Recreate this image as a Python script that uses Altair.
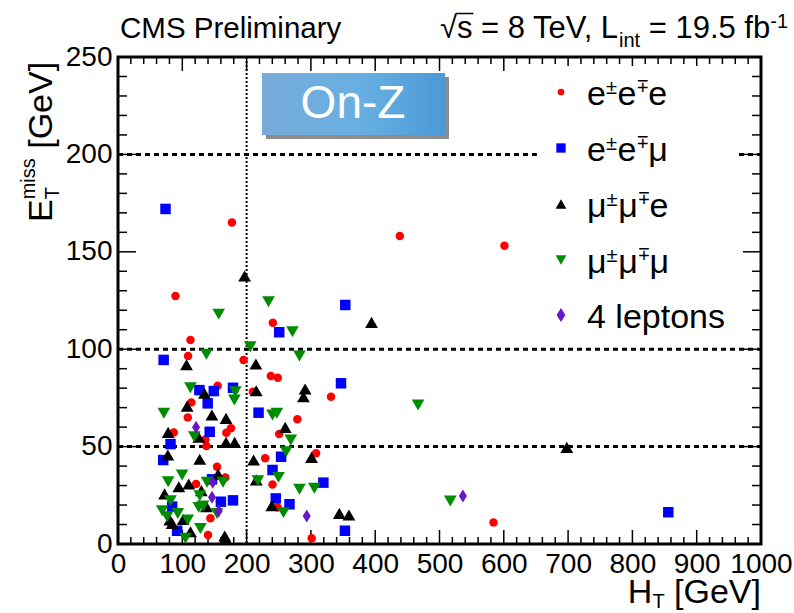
import altair as alt
import pandas as pd

# ---------------- data (H_T [GeV], E_T^miss [GeV]) ----------------
eee_ht = [112.7, 109, 155, 114, 108.5, 175.7, 168.5, 86.8, 136, 137.5, 154, 167, 121.4, 143.7, 140,
          240.8, 195.3, 237.7, 248.5, 331.3, 209.8, 279, 250.7, 228.9, 308, 240.3, 248.4, 301.2,
          438.3, 601, 584, 177.2, 89.4]
eee_met = [104.7, 96.5, 81.3, 72.7, 65, 59.4, 57.1, 57.3, 53.7, 50.3, 39.7, 34.2, 30.8, 13.2, 4.6,
           113.6, 94.5, 86.2, 85.4, 75.6, 78.2, 64, 56.5, 44, 46.6, 30.6, 18.8, 2.9,
           158.1, 153.1, 11.1, 165, 127.3]

eem_ht = [71, 126.6, 149, 178.8, 139.5, 142.6, 81.7, 70.3, 146.2, 160, 178.8, 84.2, 92,
          250.7, 346.8, 218.6, 253.6, 240.3, 319.4, 245.4, 266.7, 352.9, 855.8, 73.9, 353.5]
eem_met = [94.5, 79, 78.5, 80.2, 72.2, 57.6, 51.3, 43.1, 33.2, 21.7, 22.4, 19.2, 6.8,
           108.7, 82.5, 67.4, 44.8, 38, 31.5, 23.4, 20.4, 6.8, 16.3, 172, 122.7]

mme_ht = [106.5, 134.4, 107.5, 146, 168, 78, 125.6, 168, 181.4, 77.5, 127.1, 155.6, 110, 94.6,
          129.6, 72.4, 101.3, 80.6, 137.5, 84.2, 112.7, 166, 168, 214.4, 291, 288.4, 215, 260,
          210.9, 301, 215, 239.3, 344.2, 359.2, 394.3, 698, 196.9]
mme_met = [92, 77.4, 70.8, 66.2, 64.5, 57.3, 54.8, 52.2, 52.2, 45.7, 43.5, 35.9, 30.8, 29.4,
           27.4, 25.7, 12.6, 12.3, 19.2, 10.6, 6.3, 4.1, 2.4, 92.4, 79.6, 75.6, 78.7, 59.9,
           43.1, 44.5, 32.9, 19.7, 15.7, 14.9, 113.8, 49.6, 137.6]

mmm_ht = [137.5, 112.6, 71.3, 118.7, 99.7, 163.3, 138.5, 78, 127.1, 81.6, 68.7, 76.4, 93, 108.5,
          125.6, 132.3, 154, 128.2, 104.9, 271.3, 205.7, 282.2, 182.4, 181, 240.3, 247, 268.7,
          261.5, 249.6, 217.5, 282.2, 305.4, 257.4, 156.6, 234.1, 466.7, 516.8]
mmm_met = [97.4, 80.2, 67.1, 55.1, 35.4, 31.7, 31.7, 32, 24.8, 22.2, 17.1, 14, 15.7, 12.3,
           18.8, 19.5, 15.7, 8, 2.9, 109, 101.3, 96.5, 78.2, 73.9, 66.2, 67.1, 53.4,
           47.4, 34.2, 32.5, 28.1, 28.6, 16.1, 118, 124.4, 71.4, 22.1]

fourl_ht = [121.4, 147.3, 146.2, 156.6, 293.5, 536.4]
fourl_met = [59.9, 31.7, 24, 16.9, 14.4, 24.6]

x_labels = [0, 100, 200, 300, 400, 500, 600, 700, 800, 900, 1000]
y_labels = [0, 50, 100, 150, 200, 250]
dashed_levels = [50, 100, 200]
ht_cut = [200]

# ---------------- layout ----------------
W, H = 643, 487
OX, OY = 118, 57          # plot origin in the page
FONT = "Liberation Sans"

xs = alt.Scale(domain=[0, 1000], nice=False, zero=False)
ys = alt.Scale(domain=[0, 250], nice=False, zero=False)
xaxis = alt.Axis(values=x_labels, title=None, ticks=False, domain=False, grid=False, format="d",
                 labelFont=FONT, labelFontSize=28, labelColor="black", labelPadding=6,
                 labelOverlap=False, labelFlush=False, labelBound=False)
yaxis = alt.Axis(values=y_labels, title=None, ticks=False, domain=False, grid=False, format="d",
                 labelFont=FONT, labelFontSize=28, labelColor="black", labelPadding=6,
                 labelOverlap=False, labelFlush=False, labelBound=False, labelBaseline="middle")


def X():
    return alt.X("ht:Q", scale=xs, axis=xaxis)


def Y():
    return alt.Y("met:Q", scale=ys, axis=yaxis)


one = pd.DataFrame({"a": [0]})
layers = []

# dashed horizontal lines
layers.append(alt.Chart(pd.DataFrame({"met": dashed_levels})).mark_rule(
    color="black", strokeWidth=3, strokeDash=[5, 4]).encode(
    y=Y(), x=alt.value(0), x2=alt.value(W)))
# dotted vertical line
layers.append(alt.Chart(pd.DataFrame({"ht": ht_cut})).mark_rule(
    color="black", strokeWidth=2, strokeDash=[2, 2]).encode(
    x=X(), y=alt.value(0), y2=alt.value(H)))

# ticks (inside the frame, on all four sides)
x_major = x_labels[1:-1]
x_minor = [v for v in range(20, 1000, 20) if v % 100]
y_major = y_labels[1:-1]
y_minor = [v for v in range(10, 250, 10) if v % 50]
for vals, ln in ((x_major, 14), (x_minor, 7)):
    d = pd.DataFrame({"ht": vals})
    layers.append(alt.Chart(d).mark_rule(color="black", strokeWidth=1.5).encode(
        x=X(), y=alt.value(H), y2=alt.value(H - ln)))
    layers.append(alt.Chart(d).mark_rule(color="black", strokeWidth=1.5).encode(
        x=X(), y=alt.value(0), y2=alt.value(ln)))
for vals, ln in ((y_major, 18), (y_minor, 9)):
    d = pd.DataFrame({"met": vals})
    layers.append(alt.Chart(d).mark_rule(color="black", strokeWidth=1.5).encode(
        y=Y(), x=alt.value(0), x2=alt.value(ln)))
    layers.append(alt.Chart(d).mark_rule(color="black", strokeWidth=1.5).encode(
        y=Y(), x=alt.value(W), x2=alt.value(W - ln)))

# legend background
layers.append(alt.Chart(one).mark_rect(fill="white", stroke=None).encode(
    x=alt.value(419), x2=alt.value(620), y=alt.value(9), y2=alt.value(283)))

DIAMOND = "M0,-1L0.62,0L0,1L-0.62,0Z"
series = [
    (eee_ht, eee_met, "circle", "#ff0000", 72, 45),
    (eem_ht, eem_met, "square", "#0000ff", 110, 87),
    (mme_ht, mme_met, "triangle-up", "#000000", 165, 115),
    (mmm_ht, mmm_met, "triangle-down", "#008c00", 160, 115),
    (fourl_ht, fourl_met, DIAMOND, "#6a14c8", 169, 196),
]
for ht, met, shape, col, sz, _ in series:
    d = pd.DataFrame({"ht": ht, "met": met})
    layers.append(alt.Chart(d).mark_point(shape=shape, filled=True, color=col, size=sz,
                                          opacity=1, strokeWidth=0).encode(x=X(), y=Y()))


def txt(x, y, s, size, angle=0, align="left", baseline="alphabetic", color="black"):
    return alt.Chart(one).mark_text(text=s, font=FONT, fontSize=size, angle=angle, align=align,
                                    baseline=baseline, color=color).encode(
        x=alt.value(x), y=alt.value(y))


ARIAL = {'C': 722, 'M': 833, 'S': 667, ' ': 278, 'P': 667, 'r': 333, 'e': 556, 'l': 222, 'i': 222,
         'm': 833, 'n': 556, 'a': 556, 'y': 500, '√': 549, 's': 500, '=': 584, '8': 556, 'T': 611,
         'V': 667, ',': 278, 'L': 556, 't': 278, '1': 556, '9': 556, '.': 278, '5': 556, 'f': 278,
         'b': 556, '-': 333, 'H': 722, '[': 278, ']': 278, 'G': 778, 'E': 667, 'μ': 576, '±': 584,
         '∓': 584, '4': 556, 'p': 556, 'o': 556}


def tw(s, size):
    return sum(ARIAL.get(c, 556) for c in s) / 1000.0 * size


# legend entries
leg_cy = [35, 91, 147, 203, 258]
leg_tokens = [
    [("e", 0), ("±", 1), ("e", 0), ("∓", 1), ("e", 0)],
    [("e", 0), ("±", 1), ("e", 0), ("∓", 1), ("μ", 0)],
    [("μ", 0), ("±", 1), ("μ", 0), ("∓", 1), ("e", 0)],
    [("μ", 0), ("±", 1), ("μ", 0), ("∓", 1), ("μ", 0)],
    [("4 leptons", 0)],
]
MAIN, SUP = 34, 20
for (ht, met, shape, col, sz, lsz), cy, toks in zip(series, leg_cy, leg_tokens):
    layers.append(alt.Chart(one).mark_point(shape=shape, filled=True, color=col, size=lsz,
                                            opacity=1, strokeWidth=0).encode(
        x=alt.value(443), y=alt.value(cy)))
    x = 469
    base = cy + 13
    for t, sup in toks:
        if not sup:
            layers.append(txt(x, base, t, MAIN))
            x += tw(t, MAIN)
        else:
            sb = base - 11.5
            w = tw("±", SUP)
            if t == "±":
                layers.append(txt(x, sb, "±", SUP))
            else:
                layers.append(txt(x + w, sb - 0.67 * SUP, "±", SUP, angle=180))
            x += w

# On-Z box
layers.append(alt.Chart(one).mark_rect(fill="#6f6f6f", opacity=0.8).encode(
    x=alt.value(148), x2=alt.value(331), y=alt.value(20), y2=alt.value(82)))
grad = alt.LinearGradient(gradient="linear", x1=0, x2=1, y1=0, y2=0, stops=[
    alt.GradientStop(color="#78abd9", offset=0),
    alt.GradientStop(color="#67afe2", offset=0.55),
    alt.GradientStop(color="#4a99d6", offset=1)])
layers.append(alt.Chart(one).mark_rect(fill=grad).encode(
    x=alt.value(144), x2=alt.value(327), y=alt.value(16), y2=alt.value(78)))
layers.append(txt(235, 47, "On-Z", 46, align="center", baseline="middle", color="white"))

# header
layers.append(txt(2, -19, "CMS Preliminary", 29.5))
TS, TSS = 31, 20
# (text, size, baseline offset, extra gap before, kerning correction)
pieces = [("√", TS, 0, 0, 0), ("s = 8 TeV, L", TS, 0, 0, -6), ("int", TSS, 9, 0, 0),
          ("= 19.5 fb", TS, 0, tw(" ", TS), 0), ("-1", TSS, -10, 0, 0)]
total = sum(tw(p, s) + g + k for p, s, _, g, k in pieces)
x = (788 - OX) - total
sqrt_end = None
for p, s, off, g, k in pieces:
    x += g
    layers.append(txt(x, -19 + off, p, s))
    if p == "√":
        sqrt_end = x + tw(p, s)
    x += tw(p, s) + k
layers.append(alt.Chart(one).mark_rule(color="black", strokeWidth=1.5).encode(
    x=alt.value(sqrt_end - 1), x2=alt.value(sqrt_end + tw("s", TS) + 1),
    y=alt.value(-19 - 0.79 * TS), y2=alt.value(-19 - 0.79 * TS)))

# x-axis title: H_T [GeV]
AT, ATS = 34, 20
xt_total = tw("H", AT) + tw("T", ATS) + tw(" [GeV]", AT)
x = W - xt_total
layers.append(txt(x, 546, "H", AT))
x += tw("H", AT)
layers.append(txt(x, 551, "T", ATS))
x += tw("T", ATS) + tw(" ", AT)
layers.append(txt(x, 546, "[GeV]", AT))

# y-axis title: E_T^miss [GeV] (rotated)
bx = -66
y = 165
layers.append(txt(bx, y, "E", AT, angle=270))
y -= tw("E", AT)
layers.append(txt(bx - 17, y, "miss", ATS, angle=270))
layers.append(txt(bx + 7, y, "T", ATS, angle=270))
y -= tw("miss", ATS) + tw(" ", AT)
layers.append(txt(bx, y, "[GeV]", AT, angle=270))

chart = alt.layer(*layers).properties(
    width=W, height=H,
    padding={"left": OX, "top": OY, "right": 794 - OX - W, "bottom": 613 - OY - H},
    autosize=alt.AutoSizeParams(type="none"),
    background="white",
).configure_view(stroke="black", strokeWidth=3)

chart.save("out.html", embed_options={"renderer": "svg", "actions": False})
